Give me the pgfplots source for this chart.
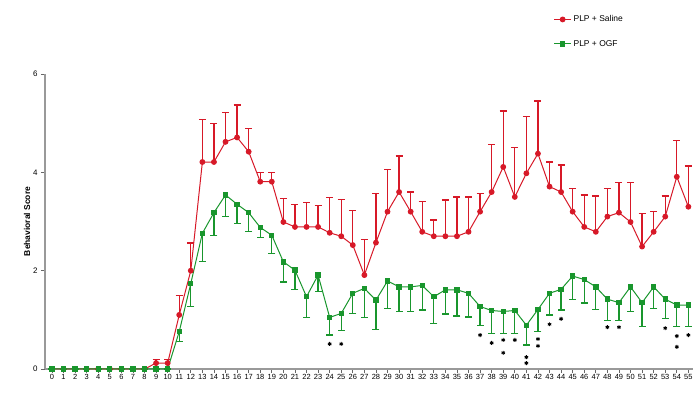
\documentclass[border=0pt]{standalone}
\usepackage{fontspec}
\setmainfont{Liberation Sans}
\usepackage{pgfplots}
\usepackage{pgfplotstable}
\pgfplotsset{compat=1.18}
\definecolor{salinecol}{RGB}{215,25,40}
\definecolor{ogfcol}{RGB}{25,150,45}

% day, mean, sem (saline bars go up, OGF bars go down)
\pgfplotstableread{
x y e
0 0 0
1 0 0
2 0 0
3 0 0
4 0 0
5 0 0
6 0 0
7 0 0
8 0 0
9 0.12 0.08
10 0.12 0.08
11 1.10 0.40
12 2.00 0.56
13 4.21 0.86
14 4.21 0.78
15 4.62 0.60
16 4.71 0.66
17 4.42 0.47
18 3.81 0.18
19 3.81 0.18
20 2.99 0.48
21 2.89 0.46
22 2.89 0.49
23 2.89 0.44
24 2.77 0.72
25 2.70 0.75
26 2.52 0.71
27 1.91 0.73
28 2.57 1.00
29 3.20 0.86
30 3.60 0.73
31 3.20 0.40
32 2.79 0.61
33 2.70 0.33
34 2.70 0.74
35 2.70 0.80
36 2.79 0.71
37 3.20 0.37
38 3.60 0.97
39 4.11 1.14
40 3.50 1.00
41 3.98 1.16
42 4.38 1.07
43 3.71 0.50
44 3.60 0.55
45 3.20 0.47
46 2.89 0.65
47 2.79 0.73
48 3.10 0.57
49 3.18 0.61
50 2.99 0.80
51 2.49 0.67
52 2.79 0.41
53 3.10 0.42
54 3.91 0.74
55 3.30 0.83
}\saline

\pgfplotstableread{
x y e
0 0 0
1 0 0
2 0 0
3 0 0
4 0 0
5 0 0
6 0 0
7 0 0
8 0 0
9 0 0
10 0 0
11 0.76 0.20
12 1.74 0.47
13 2.76 0.58
14 3.18 0.46
15 3.54 0.44
16 3.35 0.39
17 3.18 0.38
18 2.88 0.20
19 2.72 0.37
20 2.18 0.41
21 2.01 0.39
22 1.47 0.42
23 1.91 0.34
24 1.05 0.36
25 1.13 0.34
26 1.54 0.41
27 1.64 0.59
28 1.40 0.59
29 1.79 0.56
30 1.67 0.50
31 1.67 0.50
32 1.70 0.50
33 1.47 0.54
34 1.61 0.49
35 1.61 0.53
36 1.54 0.48
37 1.27 0.38
38 1.19 0.47
39 1.17 0.45
40 1.19 0.47
41 0.89 0.40
42 1.21 0.45
43 1.54 0.44
44 1.62 0.42
45 1.89 0.47
46 1.82 0.48
47 1.67 0.46
48 1.42 0.43
49 1.35 0.36
50 1.67 0.50
51 1.35 0.49
52 1.67 0.44
53 1.42 0.39
54 1.30 0.44
55 1.30 0.43
}\ogf

% significance stars under the OGF curve
\pgfplotstableread{
x y
24 0.51
25 0.51
37 0.69
38 0.53
39 0.59
39 0.33
40 0.59
41 0.24
41 0.12
42 0.61
42 0.47
43 0.91
44 1.02
48 0.85
49 0.85
53 0.83
54 0.67
54 0.45
55 0.69
}\stars

\begin{document}
\begin{tikzpicture}
\begin{axis}[
    scale only axis,
    width=648bp, height=295bp,
    xmin=-0.6, xmax=55.4,
    ymin=0, ymax=6,
    axis x line*=bottom,
    axis y line*=left,
    axis line style={black!40, line width=1.4pt, -},
    tick style={black!60, line width=0.8pt},
    tick align=outside,
    major tick length=4bp,
    xtick={0,...,55},
    ytick={0,2,4,6},
    /pgf/number format/assume math mode=true,
    x tick label style={font=\fontsize{7.5}{8}\selectfont, inner sep=1pt},
    y tick label style={font=\fontsize{8}{9}\selectfont},
    ylabel={\textbf{Behavioral Score}},
    ylabel style={font=\fontsize{8.5}{10}\selectfont, yshift=-4bp},
    legend style={at={(0.78,1.212)}, anchor=north west, draw=none, fill=none,
        font=\fontsize{8.5}{10}\selectfont, row sep=13bp},
    legend cell align=left,
    clip=false,
]
\addplot[salinecol, line width=1.0pt, mark=*, mark size=2.4pt,
    error bars/.cd, y dir=plus, y explicit,
    error bar style={line width=1.3pt},
    error mark options={rotate=90, mark size=3.5bp, line width=1.3pt}]
    table[x=x, y=y, y error=e] {\saline};
\addlegendentry{PLP + Saline}
\addplot[ogfcol, line width=1.0pt, mark=square*, mark size=2.2pt,
    error bars/.cd, y dir=minus, y explicit,
    error bar style={line width=1.3pt},
    error mark options={rotate=90, mark size=3.5bp, line width=1.3pt}]
    table[x=x, y=y, y error=e] {\ogf};
\addlegendentry{PLP + OGF}
\addplot[only marks, mark=asterisk, mark size=2pt, black,
    mark options={line width=0.9pt}, forget plot]
    table[x=x, y=y] {\stars};
\end{axis}
\path[use as bounding box] ([xshift=-45bp,yshift=-42bp]current axis.south west)
    rectangle ([xshift=7bp,yshift=74bp]current axis.north east);
\end{tikzpicture}
\end{document}
